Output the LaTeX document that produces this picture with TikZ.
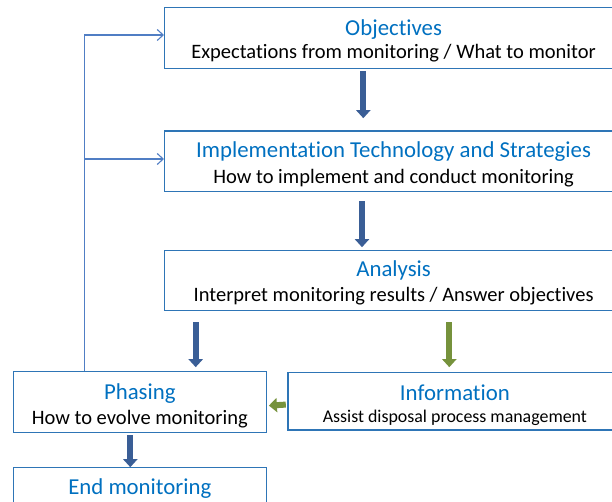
\documentclass[tikz,border=0pt]{standalone}
\usepackage{fontspec}
\setmainfont{Carlito}[Ligatures=NoCommon]
\usetikzlibrary{arrows.meta,calc}
\definecolor{tblue}{RGB}{0,112,192}
\definecolor{bord}{RGB}{46,117,182}
\definecolor{arrblue}{RGB}{58,94,150}
\definecolor{arrgreen}{RGB}{118,146,60}
\definecolor{fbline}{RGB}{80,126,196}
\newcommand{\ttlf}{\fontsize{22.8}{24}\selectfont}
\newcommand{\subf}{\fontsize{20.5}{24}\selectfont}
\tikzset{
  box/.style={draw=bord, line width=1.2pt, rectangle, anchor=north west, inner sep=0pt},
  txt/.style={align=center, inner sep=0pt, anchor=center},
  blk/.style={line width=6pt, draw=arrblue, -{Triangle[width=14pt,length=8pt]}},
  blkg/.style={line width=6pt, draw=arrgreen, -{Triangle[width=14pt,length=8pt]}},
  fb/.style={draw=fbline, line width=1.1pt},
  fba/.style={fb, -{Straight Barb[length=6pt,width=11pt,line width=1.1pt]}}
}
\begin{document}
\begin{tikzpicture}[x=1pt,y=-1pt]
\useasboundingbox (0,0) rectangle (612,502);
\clip (0,0) rectangle (612,502);
\node[box, minimum width=458pt, minimum height=61pt] (obj) at (164,7) {};
\node[txt] (objt) at ($(obj.center)+(0,3)$)
  {{\color{tblue}\ttlf Objectives}\\[4pt]
   \subf Expectations from monitoring / What to monitor};
\node[box, minimum width=458pt, minimum height=60.5pt] (impl) at (164,130.5) {};
\node[txt] (implt) at ($(impl.center)+(0,3)$)
  {{\color{tblue}\ttlf Implementation Technology and Strategies}\\[7pt]
   \subf How to implement and conduct monitoring};
\node[box, minimum width=458pt, minimum height=60pt] (ana) at (164,250) {};
\node[txt] (anat) at ($(ana.center)+(0,2.5)$)
  {{\color{tblue}\ttlf Analysis}\\[6pt]
   \subf Interpret monitoring results / Answer objectives};
\node[box, minimum width=253pt, minimum height=61pt] (pha) at (12.7,371) {};
\node[txt] (phat) at ($(pha.center)+(0,3.5)$)
  {{\color{tblue}\ttlf Phasing}\\[6pt]
   \subf How to evolve monitoring};
\node[box, minimum width=334pt, minimum height=57.6pt] (inf) at (287.3,371.7) {};
\node[txt] (inft) at ($(inf.center)+(0,4)$)
  {{\color{tblue}\ttlf Information}\\[8pt]
   \fontsize{17.9}{23}\selectfont Assist disposal process management};
\node[box, minimum width=253pt, minimum height=61pt] (endm) at (12.7,467) {};
\node[txt, text=tblue, font=\ttlf] (endt) at ($(endm.north)+(0,22)$) {End monitoring};
% block arrows
\draw[blk] ($(obj.south west)+(199.3,2)$) -- ($(obj.south west)+(199.3,49)$);
\draw[blk] ($(impl.south west)+(198,9)$) -- ($(impl.south west)+(198,55)$);
\draw[blk] ($(ana.south west)+(31.7,11)$) -- ($(ana.south west)+(31.7,56)$);
\draw[blkg] ($(ana.south west)+(285.3,11)$) -- ($(ana.south west)+(285.3,56)$);
\draw[blkg] ($(inf.west)+(-1.5,3.5)$) -- ($(pha.east)+(2,3.5)$);
\draw[blk] ($(pha.south west)+(117.6,2)$) -- ($(pha.south west)+(117.6,34)$);
% feedback
\coordinate (fbx) at (84.3,0);
\draw[fb] (fbx |- pha.north) -- (fbx |- 0,35);
\draw[fba] (fbx |- 0,35) -- (obj.west |- 0,35);
\draw[fba] (fbx |- 0,159) -- (impl.west |- 0,159);
\end{tikzpicture}
\end{document}
